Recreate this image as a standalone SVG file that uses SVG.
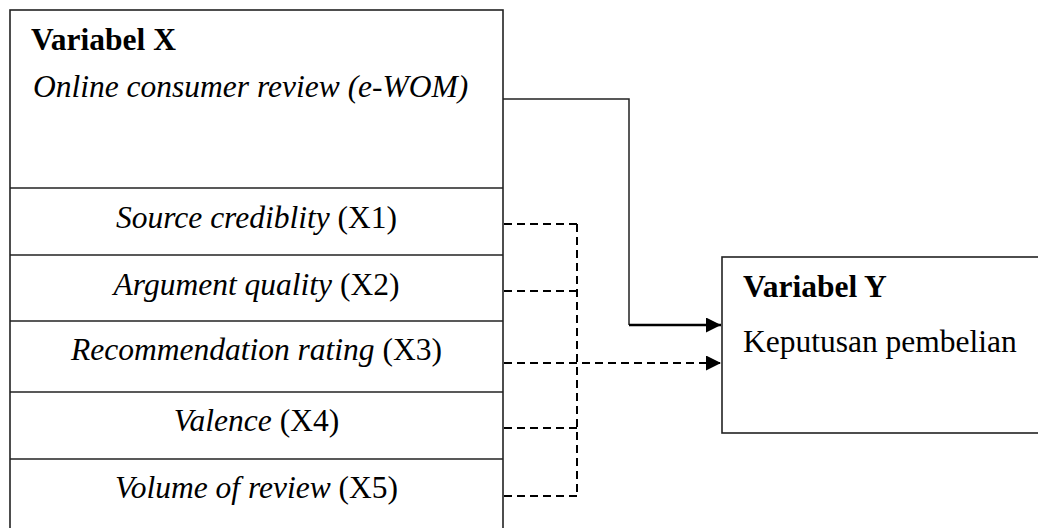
<svg xmlns="http://www.w3.org/2000/svg" width="1038" height="528" viewBox="0 0 1038 528">
<style>
.box{fill:#fff;stroke:#222;stroke-width:1.6}
.div{stroke:#222;stroke-width:1.6}
.t{font-family:"Liberation Serif","Times New Roman",serif;font-size:31.5px;fill:#000}
.b{font-weight:bold}
.i{font-style:italic}
.c{text-anchor:middle}
.solid{fill:none;stroke:#222;stroke-width:1.5}
.dash{fill:none;stroke:#000;stroke-width:2;stroke-dasharray:8,5}
</style>
<defs>
<marker id="ah" viewBox="0 0 15 15" refX="15" refY="7.5" markerWidth="15" markerHeight="15" markerUnits="userSpaceOnUse" orient="auto">
<path d="M0,0 L15,7.5 L0,15 Z" fill="#000"/>
</marker>
</defs>
<g id="connectors">
<polyline class="solid" points="503,99 629,99 629,325"/>
<line x1="629" y1="325" x2="721" y2="325" stroke="#000" stroke-width="2.5" marker-end="url(#ah)"/>
<line class="dash" x1="504" y1="224" x2="577" y2="224"/>
<line class="dash" x1="504" y1="291" x2="577" y2="291"/>
<line class="dash" x1="504" y1="363" x2="721" y2="363" marker-end="url(#ah)"/>
<line class="dash" x1="504" y1="428" x2="577" y2="428"/>
<line class="dash" x1="504" y1="496" x2="577" y2="496"/>
<line class="dash" x1="577" y1="224" x2="577" y2="496"/>
</g>
<g id="variabel-x">
<rect class="box" x="10" y="10" width="493" height="530"/>
<text class="t b" x="31" y="50">Variabel X</text>
<text class="t i" x="33" y="97">Online consumer review (e-WOM)</text>
</g>
<g id="x1">
<line class="div" x1="10" y1="188" x2="503" y2="188"/>
<text class="t c" x="256.5" y="228"><tspan class="i">Source crediblity</tspan> (X1)</text>
</g>
<g id="x2">
<line class="div" x1="10" y1="255" x2="503" y2="255"/>
<text class="t c" x="256.5" y="295"><tspan class="i">Argument quality</tspan> (X2)</text>
</g>
<g id="x3">
<line class="div" x1="10" y1="321" x2="503" y2="321"/>
<text class="t c" x="256.5" y="360"><tspan class="i">Recommendation rating</tspan> (X3)</text>
</g>
<g id="x4">
<line class="div" x1="10" y1="392" x2="503" y2="392"/>
<text class="t c" x="256.5" y="431"><tspan class="i">Valence</tspan> (X4)</text>
</g>
<g id="x5">
<line class="div" x1="10" y1="459" x2="503" y2="459"/>
<text class="t c" x="256.5" y="498"><tspan class="i">Volume of review</tspan> (X5)</text>
</g>
<g id="variabel-y">
<rect class="box" x="722" y="257" width="330" height="176"/>
<text class="t b" x="743" y="297">Variabel Y</text>
<text class="t" x="743" y="352">Keputusan pembelian</text>
</g>
</svg>
